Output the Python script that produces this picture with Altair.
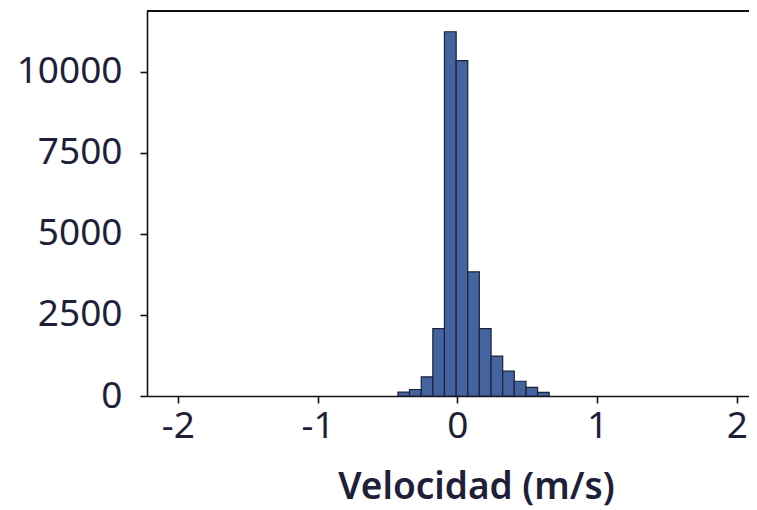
import altair as alt
import pandas as pd

# Histogram bins (m/s) and counts
bin_start = [-0.425, -0.342, -0.258, -0.175, -0.092, -0.008, 0.075, 0.158, 0.242, 0.325, 0.408, 0.492, 0.575]
bin_end = [-0.342, -0.258, -0.175, -0.092, -0.008, 0.075, 0.158, 0.242, 0.325, 0.408, 0.492, 0.575, 0.658]
counts = [120, 200, 590, 2080, 11230, 10340, 3830, 2080, 1230, 765, 454, 265, 110]

x_ticks = [-2, -1, 0, 1, 2]
y_ticks = [0, 2500, 5000, 7500, 10000]

df = pd.DataFrame({"start": bin_start, "end": bin_end, "count": counts})

FONT = "Noto Sans"
TXT = "#1f1f3a"
W, H = 602, 385

bars = alt.Chart(df).mark_bar(
    color="#44649f", stroke="#1e2238", strokeWidth=1.2
).encode(
    x=alt.X("start:Q",
            scale=alt.Scale(domain=[-2.221, 2.088], nice=False, zero=False),
            axis=alt.Axis(values=x_ticks, title="Velocidad (m/s)",
                          labelExpr="'' + datum.value",
                          grid=False, domainColor="#111111", domainWidth=1.6,
                          tickColor="#111111", tickWidth=1.6, tickSize=7,
                          labelFont=FONT, labelFontSize=37, labelColor=TXT,
                          labelPadding=5, labelFlush=False,
                          titleFont=FONT, titleFontSize=37, titleFontWeight=600,
                          titleColor=TXT, titleX=329, titleY=102,
                          titleAlign="center", titleBaseline="alphabetic")),
    x2="end:Q",
    y=alt.Y("count:Q",
            scale=alt.Scale(domain=[0, 11870], nice=False),
            axis=alt.Axis(values=y_ticks, title=None,
                          labelExpr="'' + datum.value",
                          grid=False, domainColor="#111111", domainWidth=1.6,
                          tickColor="#111111", tickWidth=1.6, tickSize=7,
                          labelFont=FONT, labelFontSize=37, labelColor=TXT,
                          labelPadding=18, labelFlush=False)),
    y2=alt.datum(0),
)

top_spine = alt.Chart(df).mark_rule(color="#111111", strokeWidth=1.6).encode(
    x=alt.value(0), x2=alt.value(W), y=alt.value(0)
)

chart = alt.layer(bars, top_spine).properties(
    width=W, height=H,
    padding={"left": 139, "top": 3, "right": 0, "bottom": 114},
    autosize=alt.AutoSizeParams(type="none"),
    background="white",
).configure_view(stroke=None)

chart.save("out.html", embed_options={"renderer": "svg", "actions": False})
